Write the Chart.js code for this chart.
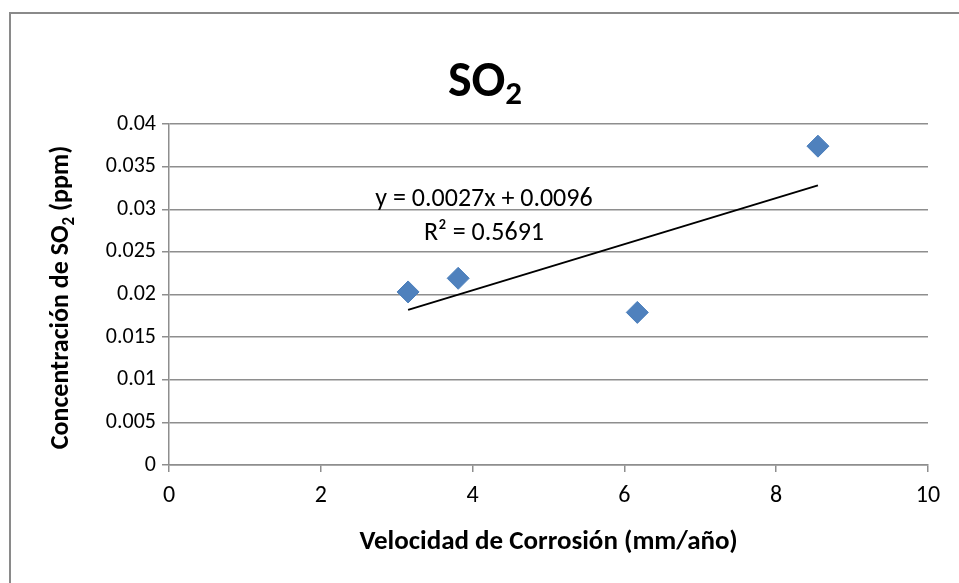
<!DOCTYPE html>
<html>
<head>
<meta charset="utf-8">
<script src="https://cdn.jsdelivr.net/npm/chart.js@4.4.0/dist/chart.umd.min.js"></script>
<style>
   html, body { margin: 0; padding: 0; background: #fff; }
   #wrap { position: relative; width: 959px; height: 583px; overflow: hidden; }
   #frame { position: absolute; left: 9px; top: 12px; width: 1000px; height: 700px;
            border-left: 2px solid #8a8a8a; border-top: 2px solid #8a8a8a; }
   #graph { position: absolute; left: 0; top: 0; }
</style>
</head>
<body>
<div id="wrap">
   <div id="frame"></div>
   <canvas id="graph" width="959" height="583"></canvas>
</div>
<script>
// datos
const velocidad = [3.15, 3.81, 6.17, 8.55];
const concentracion = [0.0203, 0.0219, 0.0179, 0.0374];
const tendenciaX = [3.15, 8.55];
const tendenciaY = [0.0182, 0.0328];
const xTicks = ['0', '2', '4', '6', '8', '10'];
const yTicks = ['0', '0.005', '0.01', '0.015', '0.02', '0.025', '0.03', '0.035', '0.04'];
const ecuacion = ['y = 0.0027x + 0.0096', 'R² = 0.5691'];
const ecuacionPos = { x: 4.15, y: 0.0311 };

const FONT = 'Carlito, Lato, "Open Sans", sans-serif';

// titulos con subindice
const titulos = {
   id: 'titulos',
   afterDraw(chart) {
      const ctx = chart.ctx;
      const area = chart.chartArea;
      ctx.save();
      ctx.fillStyle = '#000';
      ctx.textBaseline = 'alphabetic';

      // titulo principal
      ctx.font = 'bold 50px ' + FONT;
      let w1 = ctx.measureText('SO').width;
      ctx.font = 'bold 33px ' + FONT;
      let w2 = ctx.measureText('2').width;
      let x0 = 485 - (w1 + w2) / 2;
      ctx.font = 'bold 50px ' + FONT;
      ctx.fillText('SO', x0, 96);
      ctx.font = 'bold 33px ' + FONT;
      ctx.fillText('2', x0 + w1, 104);

      // titulo eje y
      const partes = [['Concentración de SO', 26, 0], ['2', 17, 6], [' (ppm)', 26, 0]];
      let total = 0;
      partes.forEach(p => { ctx.font = 'bold ' + p[1] + 'px ' + FONT; total += ctx.measureText(p[0]).width; });
      ctx.translate(68, (area.top + area.bottom) / 2 + 3);
      ctx.rotate(-Math.PI / 2);
      let cx = -total / 2;
      partes.forEach(p => {
         ctx.font = 'bold ' + p[1] + 'px ' + FONT;
         ctx.fillText(p[0], cx, p[2]);
         cx += ctx.measureText(p[0]).width;
      });
      ctx.setTransform(1, 0, 0, 1, 0, 0);

      // titulo eje x
      ctx.font = 'bold 27px ' + FONT;
      ctx.textAlign = 'center';
      ctx.fillText('Velocidad de Corrosión (mm/año)', (area.left + area.right) / 2, 549);

      // ecuacion de la tendencia
      const px = chart.scales.x.getPixelForValue(ecuacionPos.x);
      const py = chart.scales.y.getPixelForValue(ecuacionPos.y);
      ctx.font = '26px ' + FONT;
      ctx.textBaseline = 'middle';
      ctx.fillText(ecuacion[0], px, py);
      ctx.fillText(ecuacion[1], px, py + 34);
      ctx.restore();
   }
};

const graph = document.getElementById('graph');
new Chart(graph, {
   type: 'scatter',
   data: {
      datasets: [{
         label: 'SO2',
         data: velocidad.map((v, i) => ({ x: v, y: concentracion[i] })),
         pointStyle: 'rectRot',
         pointRadius: 11,
         pointHoverRadius: 11,
         backgroundColor: '#4f81bd',
         borderColor: '#4a7ebb',
         borderWidth: 1,
         order: 1
      },
      {
         label: 'Lineal',
         type: 'line',
         data: tendenciaX.map((v, i) => ({ x: v, y: tendenciaY[i] })),
         borderColor: '#000',
         borderWidth: 2,
         pointRadius: 0,
         fill: false,
         order: 2
      }]
   },
   plugins: [titulos],
   options: {
      responsive: false,
      animation: false,
      layout: {
         padding: { left: 0, top: 124, right: 31, bottom: 0 }
      },
      scales: {
         x: {
            type: 'linear',
            min: 0,
            max: 10,
            afterFit(scale) { scale.height = 118; },
            ticks: {
               stepSize: 2,
               padding: 10,
               color: '#000',
               font: { family: FONT, size: 24 },
               callback: (v, i) => xTicks[i]
            },
            grid: {
               drawOnChartArea: false,
               drawTicks: true,
               tickLength: 7,
               color: '#8e8e8e',
               lineWidth: 1.5
            },
            border: { color: '#8e8e8e', width: 1.5 }
         },
         y: {
            min: 0,
            max: 0.04,
            afterFit(scale) { scale.width = 169; },
            ticks: {
               stepSize: 0.005,
               padding: 6,
               color: '#000',
               font: { family: FONT, size: 22 },
               callback: (v, i) => yTicks[i]
            },
            grid: {
               tickLength: 7,
               color: '#8e8e8e',
               lineWidth: 1.5
            },
            border: { color: '#8e8e8e', width: 1.5 }
         }
      },
      plugins: {
         legend: { display: false },
         title: { display: false },
         tooltip: { enabled: false }
      }
   }
});
</script>
</body>
</html>
